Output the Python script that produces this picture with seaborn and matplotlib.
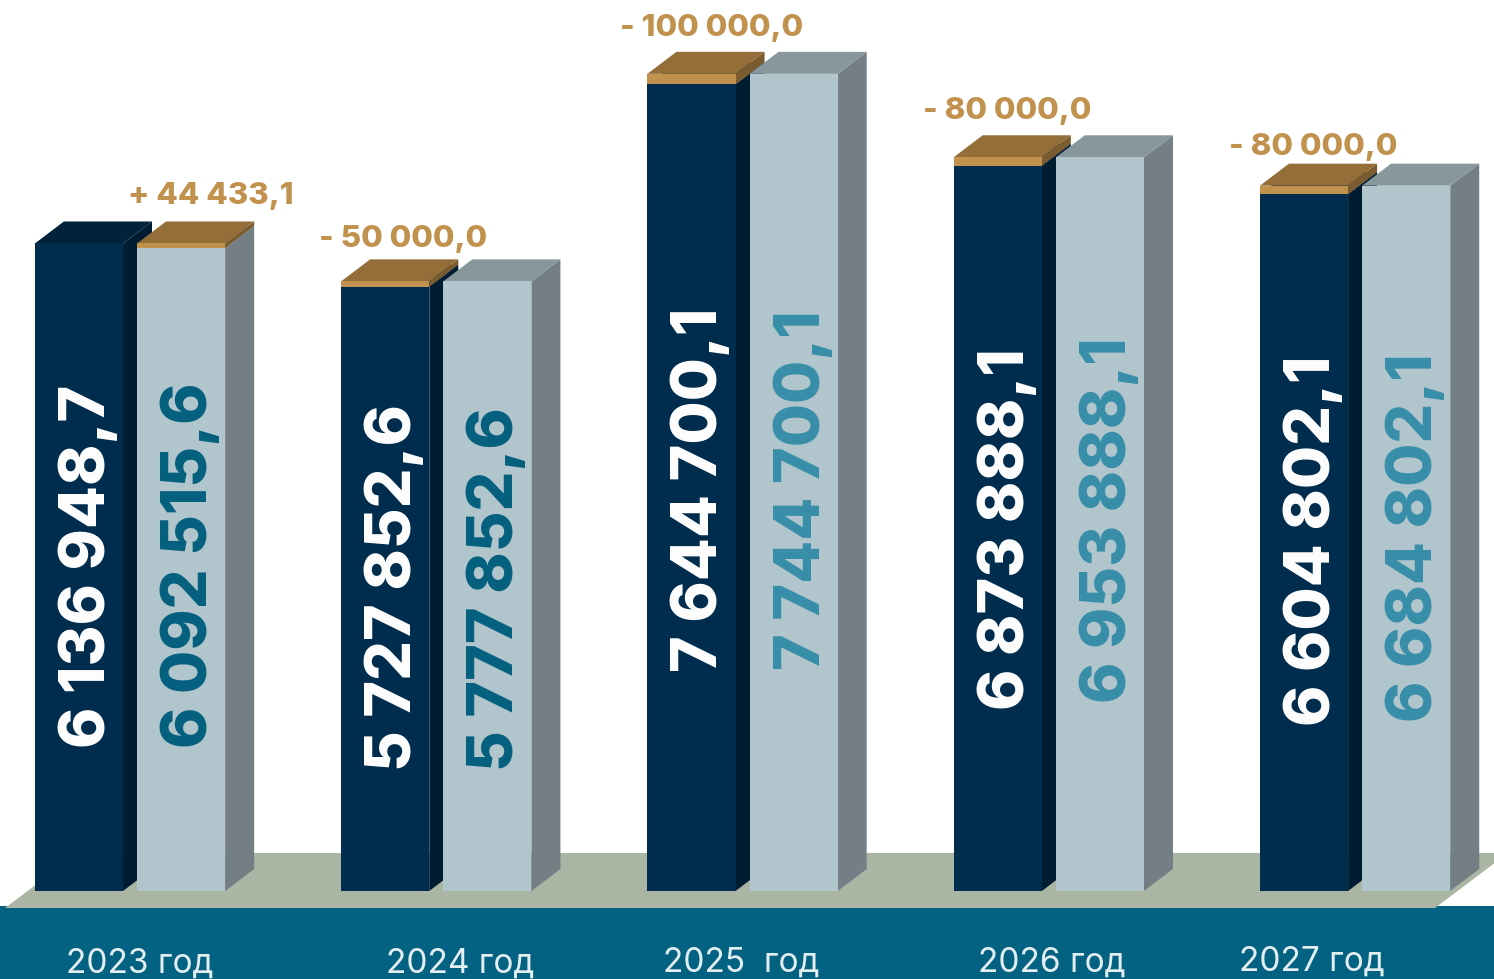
import matplotlib
matplotlib.use("Agg")
import matplotlib.pyplot as plt
from matplotlib.patches import Polygon, Rectangle
from matplotlib.transforms import Affine2D, IdentityTransform
import pandas as pd
import seaborn as sns

# Data
years = ["2023 год", "2024 год", "2025  год", "2026 год", "2027 год"]
plan_a = [6136948.7, 5727852.6, 7644700.1, 6873888.1, 6604802.1]
plan_b = [6092515.6, 5777852.6, 7744700.1, 6953888.1, 6684802.1]
plan_a_labels = ["6 136 948,7", "5 727 852,6", "7 644 700,1", "6 873 888,1", "6 604 802,1"]
plan_b_labels = ["6 092 515,6", "5 777 852,6", "7 744 700,1", "6 953 888,1", "6 684 802,1"]
delta_labels = ["+ 44 433,1", "- 50 000,0", "- 100 000,0", "- 80 000,0", "- 80 000,0"]

# Label placement in image pixels
a_text_bottom = [748, 771, 672, 710, 726]
b_text_bottom = [748, 771, 670, 703, 722]
delta_x = [211, 403, 712, 1007, 1313]
delta_base = [204, 247, 36, 119, 155]
year_x = [140, 460, 741, 1052, 1312]
year_base = [973, 973, 972, 972, 971]

# Colours
DARK, DARK_TOP, DARK_SIDE = "#002d4d", "#00233b", "#001c30"
LIGHT, LIGHT_TOP, LIGHT_SIDE = "#b1c5cc", "#87979c", "#737f84"
GOLD, GOLD_TOP, GOLD_SIDE = "#c1924e", "#936e38", "#7a5c30"
b_text_colors = ["#04607f", "#04607f", "#388ea9", "#388ea9", "#388ea9"]

W, H = 1494, 979
DEPTH_X, DEPTH_Y = 29, 22
BASE_PX = 891
PX_PER_UNIT = 1.055e-4
GROUP_PX = 306.25

df = pd.DataFrame({
    "year": years * 2,
    "series": ["a"] * 5 + ["b"] * 5,
    "value": plan_a + plan_b,
})

sns.set_theme(style="white")
plt.rcParams["font.family"] = ["Inter", "DejaVu Sans"]

fig = plt.figure(figsize=((W + 0.1) / 100, (H + 0.1) / 100), dpi=100)
ax = fig.add_axes([0, 0, 1, 1])
sns.barplot(data=df, x="year", y="value", hue="series", order=years, hue_order=["a", "b"],
            palette={"a": DARK, "b": LIGHT}, saturation=1, width=0.667, gap=0.137,
            linewidth=0, legend=False, ax=ax)
ax.set_xlim(-130 / GROUP_PX, (W - 130) / GROUP_PX)
ax.set_ylim(-(H - BASE_PX) / PX_PER_UNIT, BASE_PX / PX_PER_UNIT)
ax.axis("off")

# image pixels, y pointing down
px = Affine2D().scale(1, -1).translate(0, H)
ident = IdentityTransform()

# Ground
ax.add_patch(Rectangle((0, 906), W, H - 906, transform=px, color="#036282", lw=0, zorder=1))
ax.add_patch(Polygon([(5, 908), (78, 853), (1508, 853), (1435, 908)], transform=px,
                     color="#aab5a3", lw=0, zorder=1.5))


def box_faces(bar, top_value, top_col, side_col, z):
    # side and top faces of the box, from the bar's position on screen
    x0, y0 = ax.transData.transform((bar.get_x(), bar.get_y()))
    x1, y1 = ax.transData.transform((bar.get_x() + bar.get_width(), top_value))
    ax.add_patch(Polygon([(x1, y0), (x1 + DEPTH_X, y0 + DEPTH_Y), (x1 + DEPTH_X, y1 + DEPTH_Y), (x1, y1)],
                         transform=ident, color=side_col, lw=0, zorder=z))
    ax.add_patch(Polygon([(x0, y1), (x0 + DEPTH_X, y1 + DEPTH_Y), (x1 + DEPTH_X, y1 + DEPTH_Y), (x1, y1)],
                         transform=ident, color=top_col, lw=0, zorder=z))


bars_a, bars_b = ax.containers[0], ax.containers[1]
for i in range(len(years)):
    a, b = bars_a[i], bars_b[i]
    base_z = 2 + i * 4
    box_faces(a, plan_a[i], DARK_TOP, DARK_SIDE, base_z)
    a.set_zorder(base_z + 1)
    box_faces(b, plan_b[i], LIGHT_TOP, LIGHT_SIDE, base_z + 2)
    b.set_zorder(base_z + 3)

    # the lower column gets the gold cap up to the other column's height
    low_bar, low, high = (b, plan_b[i], plan_a[i]) if plan_b[i] < plan_a[i] else (a, plan_a[i], plan_b[i])
    z = low_bar.get_zorder()
    ax.bar(low_bar.get_x(), high - low, bottom=low, width=low_bar.get_width(), align="edge",
           color=GOLD, lw=0, zorder=z + 0.2)
    x1, y_low = ax.transData.transform((low_bar.get_x() + low_bar.get_width(), low))
    x0, y_high = ax.transData.transform((low_bar.get_x(), high))
    ax.add_patch(Polygon([(x1, y_low), (x1 + DEPTH_X, y_low + DEPTH_Y), (x1 + DEPTH_X, y_high + DEPTH_Y), (x1, y_high)],
                         transform=ident, color=GOLD_SIDE, lw=0, zorder=z - 0.5))
    ax.add_patch(Polygon([(x0, y_high), (x0 + DEPTH_X, y_high + DEPTH_Y), (x1 + DEPTH_X, y_high + DEPTH_Y), (x1, y_high)],
                         transform=ident, color=GOLD_TOP, lw=0, zorder=z - 0.5))

    # Column labels
    ax_left = ax.transData.transform((a.get_x(), 0))[0]
    bx_left = ax.transData.transform((b.get_x(), 0))[0]
    ax.text(ax_left + 70, a_text_bottom[i], plan_a_labels[i], transform=px, rotation=90, rotation_mode="anchor",
            ha="left", va="baseline", color="white", fontsize=45, fontweight=800, zorder=50)
    ax.text(bx_left + 70, b_text_bottom[i], plan_b_labels[i], transform=px, rotation=90, rotation_mode="anchor",
            ha="left", va="baseline", color=b_text_colors[i], fontsize=45, fontweight=800, zorder=50)

    ax.text(delta_x[i], delta_base[i], delta_labels[i], transform=px, ha="center", va="baseline",
            color=GOLD, fontsize=22.5, fontweight=800, zorder=50)
    ax.text(year_x[i], year_base[i], years[i], transform=px, ha="center", va="baseline",
            color="#e3eef0", fontsize=24, fontweight="normal", zorder=50)

fig.savefig("out.png", dpi=100)
